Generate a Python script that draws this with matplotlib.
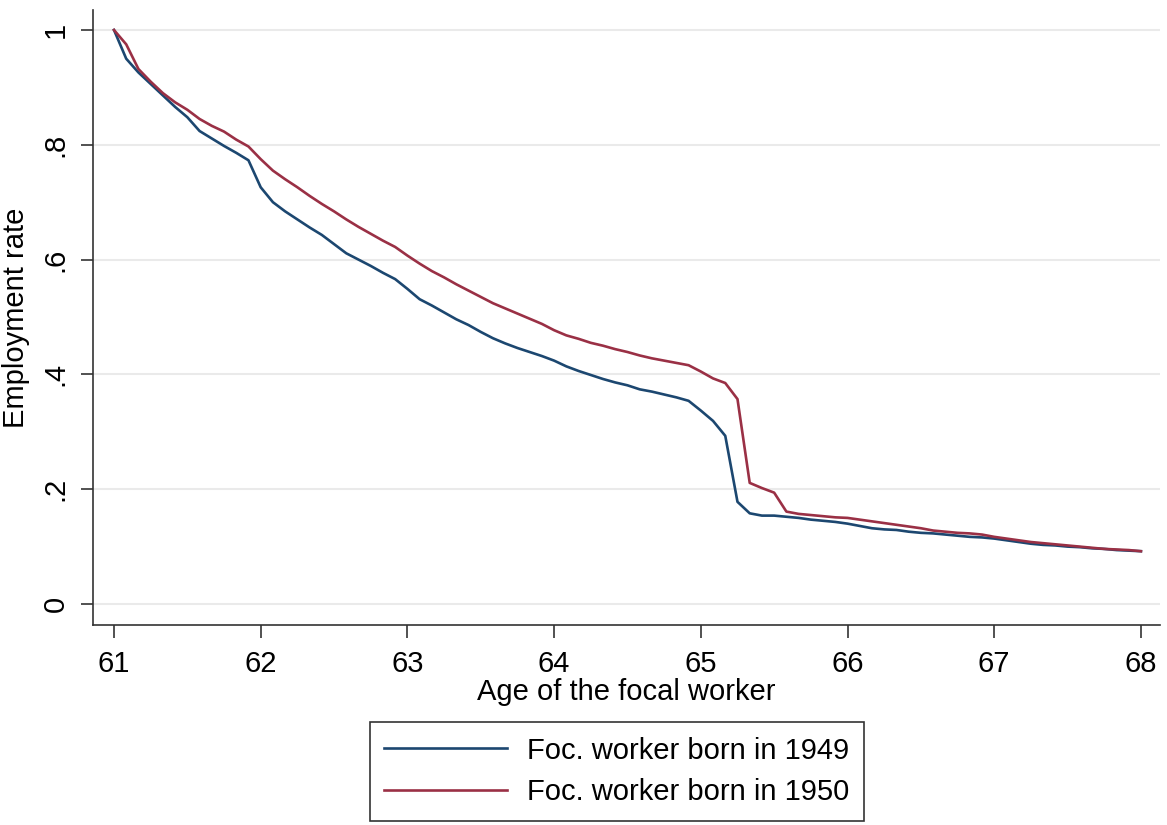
import numpy as np
import matplotlib.pyplot as plt

plt.rcParams['font.family'] = ['Liberation Sans', 'DejaVu Sans']

# monthly ages 61.0 .. 68.0
age = 61 + np.arange(85) / 12

emp_1949 = [1.000, 0.950, 0.926, 0.906, 0.886, 0.866, 0.848, 0.824, 0.811, 0.798,
            0.786, 0.773, 0.726, 0.700, 0.684, 0.670, 0.656, 0.643, 0.627, 0.611,
            0.600, 0.589, 0.577, 0.566, 0.549, 0.531, 0.520, 0.508, 0.496, 0.486,
            0.474, 0.463, 0.454, 0.446, 0.439, 0.432, 0.424, 0.414, 0.406, 0.399,
            0.392, 0.386, 0.381, 0.374, 0.370, 0.365, 0.360, 0.354, 0.337, 0.319,
            0.293, 0.178, 0.158, 0.154, 0.154, 0.152, 0.150, 0.147, 0.145, 0.143,
            0.140, 0.136, 0.132, 0.130, 0.129, 0.126, 0.124, 0.123, 0.121, 0.119,
            0.117, 0.116, 0.114, 0.111, 0.108, 0.105, 0.103, 0.102, 0.100, 0.099,
            0.097, 0.096, 0.094, 0.093, 0.092]

emp_1950 = [1.000, 0.975, 0.932, 0.910, 0.890, 0.874, 0.861, 0.845, 0.833, 0.823,
            0.809, 0.797, 0.775, 0.755, 0.740, 0.726, 0.711, 0.697, 0.684, 0.670,
            0.657, 0.645, 0.633, 0.622, 0.607, 0.593, 0.580, 0.569, 0.557, 0.546,
            0.535, 0.524, 0.515, 0.506, 0.497, 0.488, 0.477, 0.468, 0.462, 0.455,
            0.450, 0.444, 0.439, 0.433, 0.428, 0.424, 0.420, 0.416, 0.405, 0.393,
            0.385, 0.357, 0.211, 0.202, 0.194, 0.161, 0.157, 0.155, 0.153, 0.151,
            0.150, 0.147, 0.144, 0.141, 0.138, 0.135, 0.132, 0.128, 0.126, 0.124,
            0.123, 0.121, 0.117, 0.114, 0.111, 0.108, 0.106, 0.104, 0.102, 0.100,
            0.098, 0.096, 0.095, 0.094, 0.092]

x_ticks = [61, 62, 63, 64, 65, 66, 67, 68]
y_ticks = [0, 0.2, 0.4, 0.6, 0.8, 1]
y_tick_labels = ['0', '.2', '.4', '.6', '.8', '1']

fig = plt.figure(figsize=(11.67, 8.25), dpi=100)
ax = fig.add_axes([0.0797, 0.2424, 0.9143, 0.7456])

ax.plot(age, emp_1949, color='#1c4770', lw=1.9, label='Foc. worker born in 1949')
ax.plot(age, emp_1950, color='#9a3045', lw=1.9, label='Foc. worker born in 1950')

ax.set_xlim(60.857, 68.13)
ax.set_ylim(-0.0366, 1.035)
ax.set_xticks(x_ticks)
ax.set_yticks(y_ticks)
ax.set_yticklabels(y_tick_labels, rotation=90, va='center')
ax.tick_params(axis='both', labelsize=21, length=9, width=1.2, color='#333333')
ax.tick_params(axis='x', pad=9)
ax.tick_params(axis='y', pad=8)
ax.grid(axis='y', color='#eaeaea', lw=1.5)
ax.set_axisbelow(True)
for side in ['top', 'right']:
    ax.spines[side].set_visible(False)
for side in ['left', 'bottom']:
    ax.spines[side].set_linewidth(1.2)
    ax.spines[side].set_color('#333333')

ax.set_xlabel('Age of the focal worker', fontsize=21, labelpad=0)
ax.set_ylabel('Employment rate', fontsize=21, labelpad=8)

leg = fig.legend(loc='upper center', bbox_to_anchor=(617 / 1167, 1 - 722 / 825),
                 fontsize=21, frameon=True, fancybox=False, handlelength=4.2,
                 borderpad=0.5, labelspacing=0.47, handletextpad=0.7,
                 borderaxespad=0)
leg.get_frame().set_edgecolor('black')
leg.get_frame().set_linewidth(1.2)

plt.savefig('out.png', dpi=100)
